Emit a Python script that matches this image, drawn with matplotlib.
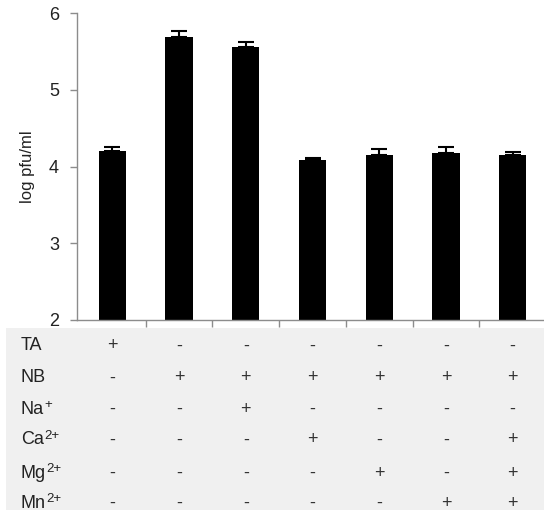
import matplotlib
matplotlib.use("Agg")
import matplotlib.pyplot as plt
from matplotlib.patches import Rectangle
import numpy as np

plt.rcParams['font.family'] = ['Liberation Sans', 'DejaVu Sans']

values = [4.20, 5.69, 5.56, 4.08, 4.15, 4.17, 4.15]
errors = [0.05, 0.07, 0.065, 0.035, 0.08, 0.08, 0.035]
yticks = [2, 3, 4, 5, 6]
row_bases = ['TA', 'NB', 'Na', 'Ca', 'Mg', 'Mn']
row_sups = ['', '', '+', '2+', '2+', '2+']
row_signs = [
    ['+', '-', '-', '-', '-', '-', '-'],
    ['-', '+', '+', '+', '+', '+', '+'],
    ['-', '-', '+', '-', '-', '-', '-'],
    ['-', '-', '-', '+', '-', '-', '+'],
    ['-', '-', '-', '-', '+', '-', '+'],
    ['-', '-', '-', '-', '-', '+', '+'],
]

W, H = 544, 519
fig = plt.figure(figsize=(W / 100, H / 100), dpi=100)
renderer = fig.canvas.get_renderer()

# gray table background
fig.patches.append(Rectangle((6 / W, 1 - 510 / H), (544 - 6) / W, (510 - 328) / H,
                             transform=fig.transFigure, facecolor='#f0f0f0',
                             edgecolor='none', zorder=0))

ax = fig.add_axes([77 / W, 1 - 320 / H, (546 - 77) / W, (320 - 13) / H])
ax.set_facecolor('none')
x = np.arange(len(values))
ax.bar(x, values, width=0.41, color='black', zorder=2)
ax.errorbar(x, values, yerr=[np.zeros(len(values)), errors], fmt='none',
            ecolor='black', elinewidth=1.5, capsize=6, capthick=1.5, zorder=3)
ax.set_ylim(2, 6)
ax.set_xlim(-0.53, 6.5)
ax.set_yticks(yticks)
ax.set_yticklabels([str(t) for t in yticks], fontsize=13)
ax.set_xticks(np.arange(0.5, 6, 1))
ax.set_xticklabels([])
for s in ['top', 'right']:
    ax.spines[s].set_visible(False)
for s in ['left', 'bottom']:
    ax.spines[s].set_color('#8c8c8c')
    ax.spines[s].set_linewidth(1.0)
ax.tick_params(axis='both', colors='#8c8c8c', length=5, width=1, direction='out')
ax.tick_params(axis='y', labelcolor='#222222', pad=8)
ax.set_ylabel('log pfu/ml', fontsize=12, color='#222222', labelpad=10)

row_y = [346, 378, 409, 440, 473, 503]
for r in range(len(row_bases)):
    yf = 1 - row_y[r] / H
    t = fig.text(21 / W, yf, row_bases[r], fontsize=13, color='#222222',
                 ha='left', va='center')
    if row_sups[r]:
        bb = t.get_window_extent(renderer)
        fig.text((bb.x1 + 0.5) / W, yf + 4 / H, row_sups[r], fontsize=9.5,
                 color='#222222', ha='left', va='center')
    for i, s in enumerate(row_signs[r]):
        xd = ax.transData.transform((x[i], 0))[0]
        fig.text(xd / W, yf, s, fontsize=13, color='#333333', ha='center',
                 va='center')

fig.savefig('out.png', dpi=100)
